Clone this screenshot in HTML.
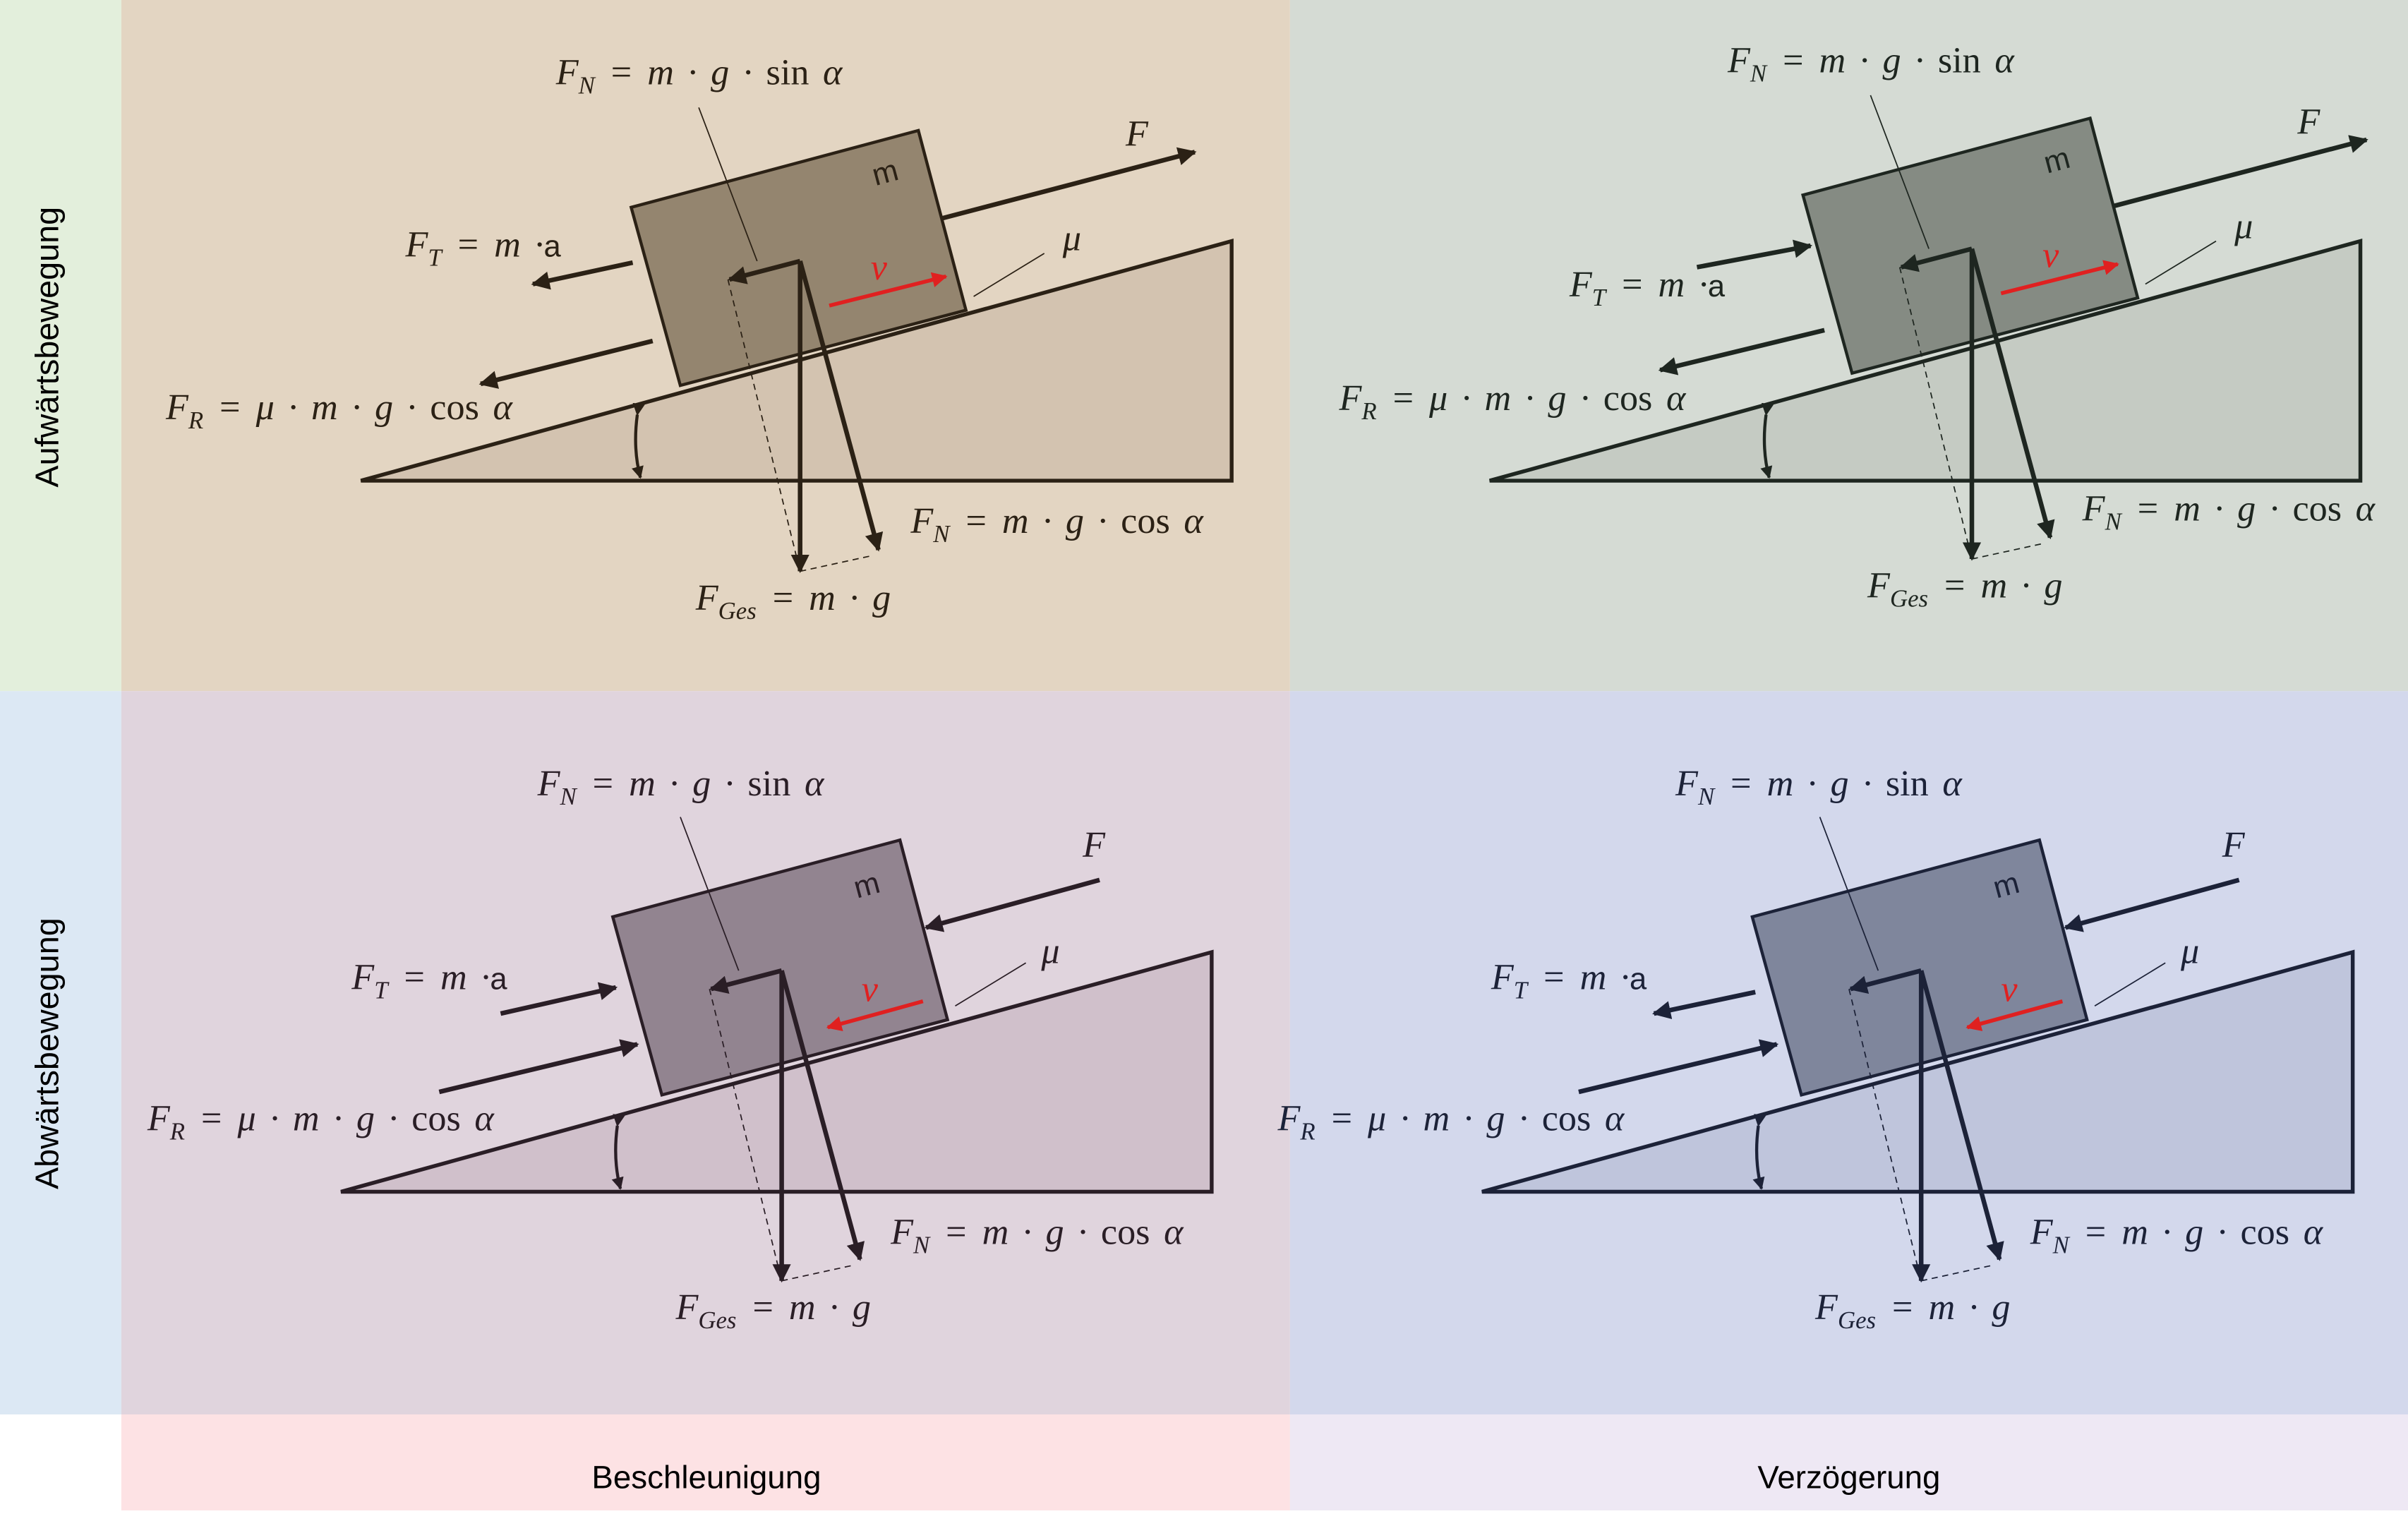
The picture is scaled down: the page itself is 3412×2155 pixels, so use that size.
<!DOCTYPE html>
<html><head><meta charset="utf-8"><style>
html,body{margin:0;padding:0;background:#fff}
svg{display:block}
text{font-family:"Liberation Serif",serif;font-style:italic;word-spacing:3px}
.s{font-family:"Liberation Sans",sans-serif;font-style:normal;word-spacing:0}
.u{font-style:normal}
</style></head><body>
<svg width="3412" height="2155" viewBox="0 0 1568 990.4" preserveAspectRatio="none" font-size="24" xmlns="http://www.w3.org/2000/svg">
<defs>
<marker id="a1" viewBox="0 0 10 10" refX="9" refY="5" markerWidth="4" markerHeight="4" orient="auto"><path d="M0,0L10,5L0,10z" fill="#2b2115"/></marker>
<marker id="a2" viewBox="0 0 10 10" refX="9" refY="5" markerWidth="4" markerHeight="4" orient="auto"><path d="M0,0L10,5L0,10z" fill="#1e2620"/></marker>
<marker id="a3" viewBox="0 0 10 10" refX="9" refY="5" markerWidth="4" markerHeight="4" orient="auto"><path d="M0,0L10,5L0,10z" fill="#2a1e26"/></marker>
<marker id="a4" viewBox="0 0 10 10" refX="9" refY="5" markerWidth="4" markerHeight="4" orient="auto"><path d="M0,0L10,5L0,10z" fill="#1c2238"/></marker>
<marker id="ar" viewBox="0 0 10 10" refX="9" refY="5" markerWidth="4" markerHeight="4" orient="auto"><path d="M0,0L10,5L0,10z" fill="#e02020"/></marker>
</defs>
<rect x="0" y="0" width="79" height="450" fill="#e3efdc"/>
<rect x="0" y="450" width="79" height="471" fill="#dce8f4"/>
<rect x="79" y="0" width="761" height="450" fill="#e3d5c2"/>
<rect x="840" y="0" width="728" height="450" fill="#d5dbd4"/>
<rect x="79" y="450" width="761" height="471" fill="#e0d4dd"/>
<rect x="840" y="450" width="728" height="471" fill="#d3d8ec"/>
<rect x="79" y="921" width="761" height="62.5" fill="#fde2e4"/>
<rect x="840" y="921" width="728" height="62.5" fill="#eee8f4"/>
<text class="s" x="0" y="0" font-size="21.5" transform="translate(38,226) rotate(-90)" text-anchor="middle">Aufwärtsbewegung</text>
<text class="s" x="0" y="0" font-size="21.5" transform="translate(38,686) rotate(-90)" text-anchor="middle">Abwärtsbewegung</text>
<text class="s" x="460" y="969" font-size="21" text-anchor="middle">Beschleunigung</text>
<text class="s" x="1204" y="969" font-size="21" text-anchor="middle">Verzögerung</text>

<!-- ============ TL ============ -->
<g stroke="#2b2115" fill="#2b2115">
<polygon points="235,313 802,157 802,313" fill="#d3c3b0" stroke-width="2.5"/>
<path d="M415,270 Q412,292 417,311" fill="none" stroke-width="2" marker-start="url(#a1)" marker-end="url(#a1)"/>
</g>
<g stroke="#2b2115" fill="#2b2115">
<polygon points="411,135 598,85 629,202 443,251" fill="#94856f" stroke-width="2"/>
<line x1="455" y1="70" x2="493" y2="170" stroke-width="0.8"/>
<line x1="634" y1="193" x2="680" y2="165" stroke-width="0.8"/>
<line x1="474" y1="182" x2="521" y2="372" stroke-width="0.8" stroke-dasharray="4,3"/>
<line x1="521" y1="372" x2="567" y2="362" stroke-width="0.8" stroke-dasharray="4,3"/>
<polyline points="521,170 475,182" fill="none" stroke-width="3" marker-end="url(#a1)"/>
<line x1="521" y1="170" x2="521" y2="372" stroke-width="3" marker-end="url(#a1)"/>
<line x1="521" y1="170" x2="572" y2="358" stroke-width="3" marker-end="url(#a1)"/>
<g stroke="none">
<text x="362" y="55">F<tspan font-size="16" dy="6">N</tspan><tspan dy="-6"> = m · g · <tspan class="u">sin</tspan> α</tspan></text>
<text x="0" y="0" class="s" font-size="20" transform="translate(570,121) rotate(-15)">m</text>
<text x="593" y="347">F<tspan font-size="16" dy="6">N</tspan><tspan dy="-6"> = m · g · <tspan class="u">cos</tspan> α</tspan></text>
<text x="453" y="397">F<tspan font-size="16" dy="6">Ges</tspan><tspan dy="-6"> = m · g</tspan></text>
<text x="692" y="163">μ</text>
</g>
</g>
<g stroke="#2b2115" fill="#2b2115">
<line x1="614" y1="142" x2="778" y2="99" stroke-width="3" marker-end="url(#a1)"/>
<line x1="412" y1="171" x2="347" y2="185" stroke-width="3" marker-end="url(#a1)"/>
<line x1="425" y1="222" x2="313" y2="250" stroke-width="3" marker-end="url(#a1)"/>
<line x1="540" y1="199" x2="616" y2="180" stroke="#e02020" stroke-width="2.5" marker-end="url(#ar)"/>
<g stroke="none">
<text x="733" y="95">F</text>
<text x="264" y="167">F<tspan font-size="16" dy="6">T</tspan><tspan dy="-6"> = m ·<tspan class="s" font-size="20">a</tspan></tspan></text>
<text x="108" y="273">F<tspan font-size="16" dy="6">R</tspan><tspan dy="-6"> = μ · m · g · <tspan class="u">cos</tspan> α</tspan></text>
<text x="567" y="182" fill="#e02020">v</text>
</g>
</g>

<!-- ============ TR ============ -->
<g transform="translate(735,0)" stroke="#1e2620" fill="#1e2620">
<polygon points="235,313 802,157 802,313" fill="#c5cbc3" stroke-width="2.5"/>
<path d="M415,270 Q412,292 417,311" fill="none" stroke-width="2" marker-start="url(#a2)" marker-end="url(#a2)"/>
</g>
<g transform="translate(763,-8)" stroke="#1e2620" fill="#1e2620">
<polygon points="411,135 598,85 629,202 443,251" fill="#858b83" stroke-width="2"/>
<line x1="455" y1="70" x2="493" y2="170" stroke-width="0.8"/>
<line x1="634" y1="193" x2="680" y2="165" stroke-width="0.8"/>
<line x1="474" y1="182" x2="521" y2="372" stroke-width="0.8" stroke-dasharray="4,3"/>
<line x1="521" y1="372" x2="567" y2="362" stroke-width="0.8" stroke-dasharray="4,3"/>
<polyline points="521,170 475,182" fill="none" stroke-width="3" marker-end="url(#a2)"/>
<line x1="521" y1="170" x2="521" y2="372" stroke-width="3" marker-end="url(#a2)"/>
<line x1="521" y1="170" x2="572" y2="358" stroke-width="3" marker-end="url(#a2)"/>
<line x1="614" y1="142" x2="778" y2="99" stroke-width="3" marker-end="url(#a2)"/>
<line x1="342" y1="182" x2="416" y2="168" stroke-width="3" marker-end="url(#a2)"/>
<line x1="425" y1="223" x2="318" y2="249" stroke-width="3" marker-end="url(#a2)"/>
<line x1="540" y1="199" x2="616" y2="180" stroke="#e02020" stroke-width="2.5" marker-end="url(#ar)"/>
<g stroke="none">
<text x="362" y="55">F<tspan font-size="16" dy="6">N</tspan><tspan dy="-6"> = m · g · <tspan class="u">sin</tspan> α</tspan></text>
<text x="0" y="0" class="s" font-size="20" transform="translate(570,121) rotate(-15)">m</text>
<text x="593" y="347">F<tspan font-size="16" dy="6">N</tspan><tspan dy="-6"> = m · g · <tspan class="u">cos</tspan> α</tspan></text>
<text x="453" y="397">F<tspan font-size="16" dy="6">Ges</tspan><tspan dy="-6"> = m · g</tspan></text>
<text x="692" y="163">μ</text>
<text x="733" y="95">F</text>
<text x="259" y="201">F<tspan font-size="16" dy="6">T</tspan><tspan dy="-6"> = m ·<tspan class="s" font-size="20">a</tspan></tspan></text>
<text x="109" y="275">F<tspan font-size="16" dy="6">R</tspan><tspan dy="-6"> = μ · m · g · <tspan class="u">cos</tspan> α</tspan></text>
<text x="567" y="182" fill="#e02020">v</text>
</g>
</g>

<!-- ============ BL ============ -->
<g transform="translate(-13,463)" stroke="#2a1e26" fill="#2a1e26">
<polygon points="235,313 802,157 802,313" fill="#d0c0cb" stroke-width="2.5"/>
<path d="M415,270 Q412,292 417,311" fill="none" stroke-width="2" marker-start="url(#a3)" marker-end="url(#a3)"/>
</g>
<g transform="translate(-12,462)" stroke="#2a1e26" fill="#2a1e26">
<polygon points="411,135 598,85 629,202 443,251" fill="#928490" stroke-width="2"/>
<line x1="455" y1="70" x2="493" y2="170" stroke-width="0.8"/>
<line x1="634" y1="193" x2="680" y2="165" stroke-width="0.8"/>
<line x1="474" y1="182" x2="521" y2="372" stroke-width="0.8" stroke-dasharray="4,3"/>
<line x1="521" y1="372" x2="567" y2="362" stroke-width="0.8" stroke-dasharray="4,3"/>
<polyline points="521,170 475,182" fill="none" stroke-width="3" marker-end="url(#a3)"/>
<line x1="521" y1="170" x2="521" y2="372" stroke-width="3" marker-end="url(#a3)"/>
<line x1="521" y1="170" x2="572" y2="358" stroke-width="3" marker-end="url(#a3)"/>
<line x1="728" y1="111" x2="615" y2="142" stroke-width="3" marker-end="url(#a3)"/>
<line x1="338" y1="198" x2="413" y2="181" stroke-width="3" marker-end="url(#a3)"/>
<line x1="298" y1="249" x2="427" y2="218" stroke-width="3" marker-end="url(#a3)"/>
<line x1="613" y1="190" x2="551" y2="207" stroke="#e02020" stroke-width="2.5" marker-end="url(#ar)"/>
<g stroke="none">
<text x="362" y="56">F<tspan font-size="16" dy="6">N</tspan><tspan dy="-6"> = m · g · <tspan class="u">sin</tspan> α</tspan></text>
<text x="0" y="0" class="s" font-size="20" transform="translate(570,123) rotate(-15)">m</text>
<text x="592" y="348">F<tspan font-size="16" dy="6">N</tspan><tspan dy="-6"> = m · g · <tspan class="u">cos</tspan> α</tspan></text>
<text x="452" y="397">F<tspan font-size="16" dy="6">Ges</tspan><tspan dy="-6"> = m · g</tspan></text>
<text x="690" y="165">μ</text>
<text x="717" y="96">F</text>
<text x="241" y="182">F<tspan font-size="16" dy="6">T</tspan><tspan dy="-6"> = m ·<tspan class="s" font-size="20">a</tspan></tspan></text>
<text x="108" y="274">F<tspan font-size="16" dy="6">R</tspan><tspan dy="-6"> = μ · m · g · <tspan class="u">cos</tspan> α</tspan></text>
<text x="573" y="190" fill="#e02020">v</text>
</g>
</g>

<!-- ============ BR ============ -->
<g transform="translate(730,463)" stroke="#1c2238" fill="#1c2238">
<polygon points="235,313 802,157 802,313" fill="#bfc5dc" stroke-width="2.5"/>
<path d="M415,270 Q412,292 417,311" fill="none" stroke-width="2" marker-start="url(#a4)" marker-end="url(#a4)"/>
</g>
<g transform="translate(730,462)" stroke="#1c2238" fill="#1c2238">
<polygon points="411,135 598,85 629,202 443,251" fill="#7f869c" stroke-width="2"/>
<line x1="455" y1="70" x2="493" y2="170" stroke-width="0.8"/>
<line x1="634" y1="193" x2="680" y2="165" stroke-width="0.8"/>
<line x1="474" y1="182" x2="521" y2="372" stroke-width="0.8" stroke-dasharray="4,3"/>
<line x1="521" y1="372" x2="567" y2="362" stroke-width="0.8" stroke-dasharray="4,3"/>
<polyline points="521,170 475,182" fill="none" stroke-width="3" marker-end="url(#a4)"/>
<line x1="521" y1="170" x2="521" y2="372" stroke-width="3" marker-end="url(#a4)"/>
<line x1="521" y1="170" x2="572" y2="358" stroke-width="3" marker-end="url(#a4)"/>
<line x1="728" y1="111" x2="615" y2="142" stroke-width="3" marker-end="url(#a4)"/>
<line x1="413" y1="184" x2="347" y2="198" stroke-width="3" marker-end="url(#a4)"/>
<line x1="298" y1="249" x2="427" y2="218" stroke-width="3" marker-end="url(#a4)"/>
<line x1="613" y1="190" x2="551" y2="207" stroke="#e02020" stroke-width="2.5" marker-end="url(#ar)"/>
<g stroke="none">
<text x="361" y="56">F<tspan font-size="16" dy="6">N</tspan><tspan dy="-6"> = m · g · <tspan class="u">sin</tspan> α</tspan></text>
<text x="0" y="0" class="s" font-size="20" transform="translate(570,123) rotate(-15)">m</text>
<text x="592" y="348">F<tspan font-size="16" dy="6">N</tspan><tspan dy="-6"> = m · g · <tspan class="u">cos</tspan> α</tspan></text>
<text x="452" y="397">F<tspan font-size="16" dy="6">Ges</tspan><tspan dy="-6"> = m · g</tspan></text>
<text x="690" y="165">μ</text>
<text x="717" y="96">F</text>
<text x="241" y="182">F<tspan font-size="16" dy="6">T</tspan><tspan dy="-6"> = m ·<tspan class="s" font-size="20">a</tspan></tspan></text>
<text x="102" y="274">F<tspan font-size="16" dy="6">R</tspan><tspan dy="-6"> = μ · m · g · <tspan class="u">cos</tspan> α</tspan></text>
<text x="573" y="190" fill="#e02020">v</text>
</g>
</g>
</svg>
</body></html>
